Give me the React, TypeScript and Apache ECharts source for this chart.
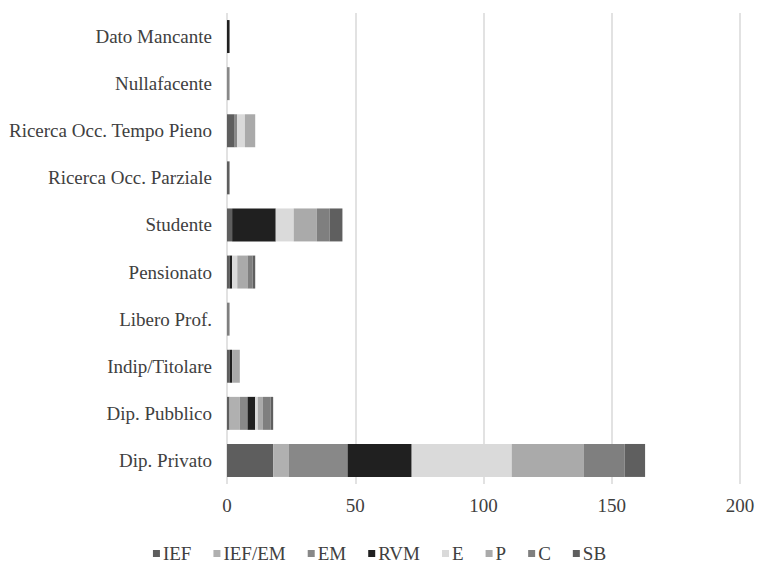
import React, { useEffect, useRef } from "react";
import * as echarts from "echarts";

const categories = [
  "Dip. Privato",
  "Dip. Pubblico",
  "Indip/Titolare",
  "Libero Prof.",
  "Pensionato",
  "Studente",
  "Ricerca Occ. Parziale",
  "Ricerca Occ. Tempo Pieno",
  "Nullafacente",
  "Dato Mancante",
];

const seriesNames = ["IEF", "IEF/EM", "EM", "RVM", "E", "P", "C", "SB"];

const IEF = [18, 1, 1, 0, 1, 2, 1, 3, 0, 0];
const IEF_EM = [6, 4, 0, 0, 0, 0, 0, 0, 0, 0];
const EM = [23, 3, 0, 0, 0, 0, 0, 1, 1, 0];
const RVM = [25, 3, 1, 0, 1, 17, 0, 0, 0, 1];
const E = [39, 1, 0, 0, 2, 7, 0, 3, 0, 0];
const P = [28, 2, 3, 0, 4, 9, 0, 4, 0, 0];
const C = [16, 3, 0, 1, 2, 5, 0, 0, 0, 0];
const SB = [8, 1, 0, 0, 1, 5, 0, 0, 0, 0];

const seriesValues = [IEF, IEF_EM, EM, RVM, E, P, C, SB];
const colors = ["#5e5e5e", "#b0b0b0", "#888888", "#202020", "#dadada", "#aaaaaa", "#7f7f7f", "#5f5f5f"];

const xTicks = [0, 50, 100, 150, 200];

const FONT = "'Liberation Serif', 'Times New Roman', serif";

export default function App() {
  const ref = useRef<HTMLDivElement>(null);
  useEffect(() => {
    if (!ref.current) return;
    const chart = echarts.init(ref.current, undefined, { renderer: "svg" });
    chart.setOption({
      animation: false,
      backgroundColor: "#ffffff",
      textStyle: { fontFamily: FONT },
      grid: { left: 227, right: 19, top: 13, bottom: 85 },
      legend: {
        top: 544,
        left: "center",
        padding: 0,
        icon: "rect",
        itemWidth: 7,
        itemHeight: 7,
        itemGap: 22,
        textStyle: { fontFamily: FONT, fontSize: 19, color: "#404040", padding: [0, 0, 0, -2] },
        data: seriesNames,
      },
      xAxis: {
        type: "value",
        min: xTicks[0],
        max: xTicks[xTicks.length - 1],
        interval: 50,
        axisLine: { show: false },
        axisTick: { show: false },
        axisLabel: { fontFamily: FONT, fontSize: 19, color: "#404040", margin: 12 },
        splitLine: { lineStyle: { color: "#d9d9d9", width: 1.5 } },
      },
      yAxis: {
        type: "category",
        data: categories,
        axisLine: { show: false },
        axisTick: { show: false },
        axisLabel: { fontFamily: FONT, fontSize: 19, color: "#404040", margin: 15 },
      },
      series: seriesNames.map((name, i) => ({
        name,
        type: "bar",
        stack: "total",
        data: seriesValues[i],
        barCategoryGap: "30%",
        itemStyle: { color: colors[i] },
      })),
    });
    return () => chart.dispose();
  }, []);
  return (
    <div
      ref={ref}
      style={{ position: "absolute", left: 0, top: 0, width: 759, height: 569 }}
    />
  );
}
